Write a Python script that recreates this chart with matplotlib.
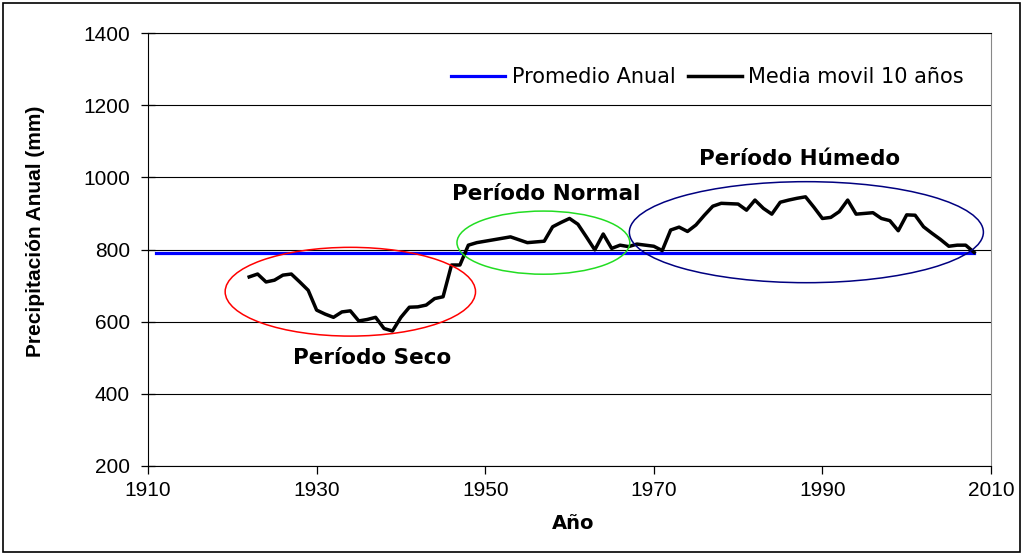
import matplotlib.pyplot as plt
from matplotlib.patches import Ellipse

# media movil 10 años (mm)
years = list(range(1922, 2009))
media_movil = [724, 732, 710, 715, 729, 732, 710, 687, 632, 621,
               612, 627, 630, 602, 606, 612, 581, 574, 612, 640,
               641, 646, 664, 669, 757, 757, 812, 819, 823, 827,
               831, 835, 827, 819, 821, 823, 863, 875, 886, 870,
               835, 799, 843, 803, 812, 808, 815, 812, 809, 797,
               854, 862, 850, 868, 895, 920, 928, 927, 926, 909,
               937, 914, 898, 931, 937, 942, 946, 917, 886, 889,
               905, 937, 898, 900, 902, 886, 880, 852, 896, 895,
               863, 845, 828, 809, 812, 812, 792]
promedio_years = [1911, 2008]
promedio = [790, 790]

# ellipses: (x, y, ancho, alto, color)
periodos = [(1934.0, 683, 29.7, 246, 'red'),
            (1956.9, 819, 20.5, 175, '#22dd22'),
            (1988.1, 848, 42.0, 280, '#000080')]
etiquetas = [('Período Seco', 1936.6, 499),
             ('Período Normal', 1957.2, 953),
             ('Período Húmedo', 1987.3, 1050)]

plt.rcParams['font.family'] = ['Liberation Sans', 'DejaVu Sans']

fig = plt.figure(figsize=(10.23, 5.55), dpi=100)
ax = fig.add_axes([0.1447, 0.1604, 0.824, 0.7801])

ax.plot(promedio_years, promedio, color='#0000ff', lw=2.3, label='Promedio Anual', zorder=3)
ax.plot(years, media_movil, color='black', lw=2.5, label='Media movil 10 años', zorder=4)

for x, y, w, h, c in periodos:
    ax.add_patch(Ellipse((x, y), w, h, fill=False, edgecolor=c, lw=1.1, zorder=5))
for txt, x, y in etiquetas:
    ax.text(x, y, txt, ha='center', va='center', fontsize=15.5, fontweight='bold',
            family='DejaVu Sans')

ax.set_xlim(1910, 2010)
ax.set_ylim(200, 1400)
ax.set_xticks(range(1910, 2011, 20))
ax.set_yticks(range(200, 1401, 200))
ax.grid(axis='y', color='black', lw=0.8)
ax.set_axisbelow(True)
ax.tick_params(labelsize=15, width=0.9)
ax.tick_params(axis='y', direction='inout', length=10, pad=8)
ax.tick_params(axis='x', direction='out', length=6, pad=5)
ax.spines['right'].set_color('#888888')
ax.spines['top'].set_color('black')
ax.set_xlabel('Año', fontsize=14, fontweight='bold', family='DejaVu Sans')
ax.xaxis.set_label_coords(0.504, -0.111)
ax.set_ylabel('Precipitación Anual (mm)', fontsize=15, fontweight='bold')
ax.yaxis.set_label_coords(-0.122, 0.543)

ax.legend(loc='upper right', ncol=2, frameon=False,
          prop={'family': 'DejaVu Sans', 'size': 15},
          handlelength=2.6, columnspacing=0.6, handletextpad=0.3,
          bbox_to_anchor=(0.99, 0.965))

fig.patches.append(plt.Rectangle((0.003, 0.005), 0.994, 0.99, transform=fig.transFigure,
                                 fill=False, edgecolor='black', lw=1.2))

fig.savefig('out.png', dpi=100)
